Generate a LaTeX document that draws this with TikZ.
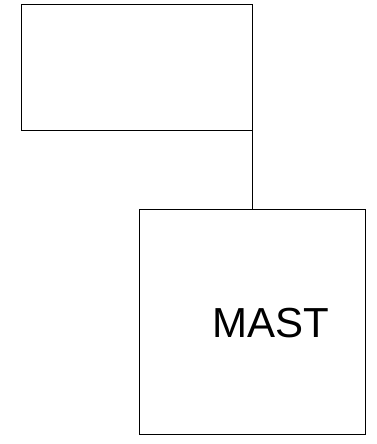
\documentclass[tikz,border=0pt]{standalone}
\usepackage{fontspec}
\setmainfont{Liberation Sans}
\begin{document}
\begin{tikzpicture}[x=1pt,y=1pt,
  boxshape/.style={draw=black,line width=1pt,minimum width=#1,inner sep=0pt,outer sep=0pt},
  labeltext/.style={font=\fontsize{42}{48}\selectfont,inner sep=0pt,anchor=base}]
\useasboundingbox (0,0) rectangle (376,444);
\node[boxshape=231pt,minimum height=126pt] (top) at (136.5,376) {};
\node[boxshape=225.5pt,minimum height=225.7pt] (mast) at (252.25,121.85) {};
\node[labeltext] (lbl) at (270.5,106.7) {MAST};
\draw[line width=1pt] (top.south east) -- (top.south east |- mast.north);
\end{tikzpicture}
\end{document}
